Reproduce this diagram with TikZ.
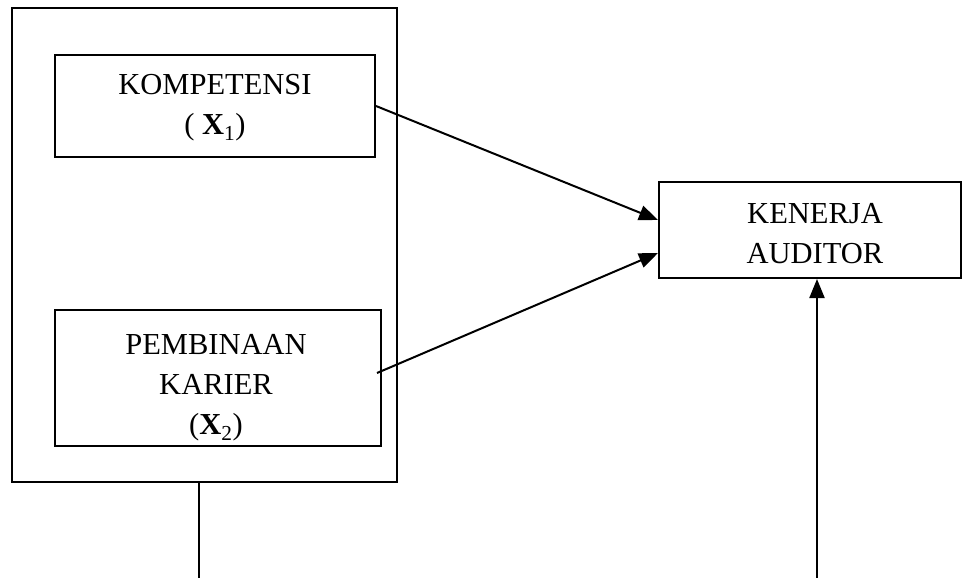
\documentclass[tikz,border=0pt]{standalone}
\usepackage{fontspec}
\setmainfont{Liberation Serif}
\usetikzlibrary{arrows.meta}
\begin{document}
\begin{tikzpicture}[x=1pt,y=-1pt,
  box/.style={draw, line width=2pt, rectangle, inner sep=0pt},
  txt/.style={inner sep=0pt, align=center, font=\fontsize{30.5}{40}\selectfont},
  conn/.style={line width=2pt, -{Triangle[length=19pt,width=15pt]}}]
\useasboundingbox (0,0) rectangle (962,578);
\node[box, minimum width=385pt, minimum height=473pt] (outer) at (204.5,245) {};
\node[box, minimum width=320pt, minimum height=102pt] (kom) at (215,106) {};
\node[txt] (komtxt) at (215,108) {KOMPETENSI\\( \textbf{X}\textsubscript{1})};
\node[box, minimum width=326pt, minimum height=136pt] (pem) at (218,378) {};
\node[txt] (pemtxt) at (216,388) {PEMBINAAN\\KARIER\\(\textbf{X}\textsubscript{2})};
\node[box, minimum width=302pt, minimum height=96pt] (ken) at (810,230) {};
\node[txt] (kentxt) at (815,234) {KENERJA\\AUDITOR};
\coordinate (b1) at (199,578);
\coordinate (b2) at (817,578);
\draw[conn] (kom.east) -- ([yshift=10pt]ken.west);
\draw[conn] ([xshift=-5pt,yshift=5pt]pem.east) -- ([yshift=-23pt]ken.west);
\draw[line width=2pt] (outer.south -| b1) -- (b1);
\draw[conn] (b2) -- (ken.south -| b2);
\end{tikzpicture}
\end{document}
